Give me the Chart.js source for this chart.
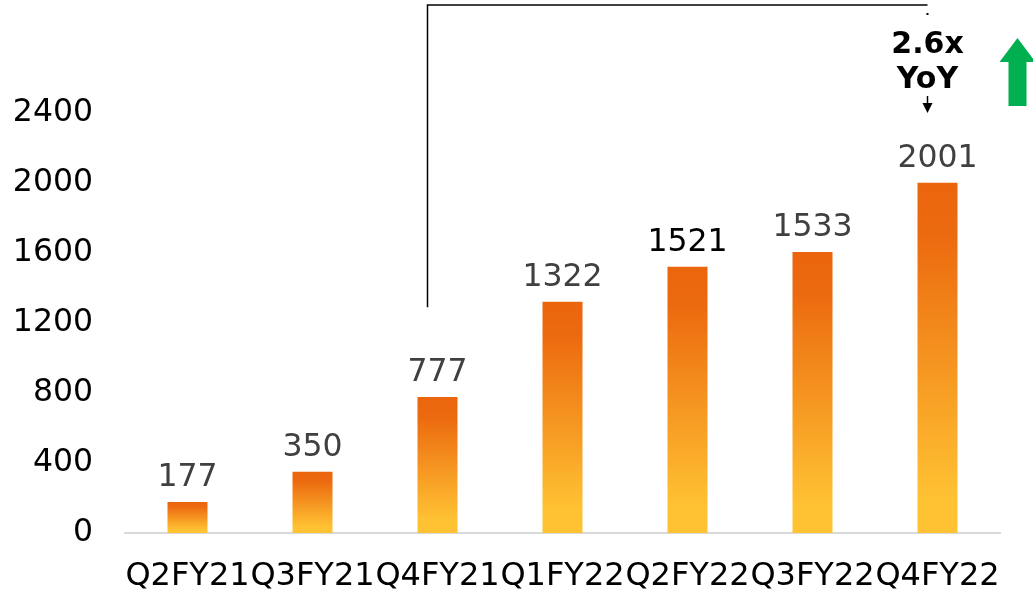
<!DOCTYPE html>
<html>
<head>
<meta charset="utf-8">
<script src="https://cdn.jsdelivr.net/npm/chart.js@4.4.0/dist/chart.umd.min.js"></script>
<style>
  html, body { margin: 0; padding: 0; background: #ffffff; }
  #wrap { width: 1033px; height: 598px; position: relative; }
</style>
</head>
<body>
<div id="wrap"><canvas id="c" width="1033" height="598"></canvas></div>
<script>
// ---- data ----
const categories = ['Q2FY21', 'Q3FY21', 'Q4FY21', 'Q1FY22', 'Q2FY22', 'Q3FY22', 'Q4FY22'];
const barValues = [177, 350, 777, 1322, 1521, 1606, 2001];      // bar heights as drawn
const barLabels = ['177', '350', '777', '1322', '1521', '1533', '2001']; // printed labels
const yTicks = [0, 400, 800, 1200, 1600, 2000, 2400];
const growthText = ['2.6x', 'YoY'];

// ---- styles ----
const labelColors = ['#404040', '#404040', '#404040', '#404040', '#000000', '#404040', '#404040'];
const FONT = "'DejaVu Sans', Verdana, sans-serif";

function barGradient(ctx) {
  const chart = ctx.chart;
  const ca = chart.chartArea;
  if (!ca || ctx.type !== 'data') return '#F08A1E';
  const y = chart.scales.y;
  const top = y.getPixelForValue(ctx.raw);
  const bottom = y.getPixelForValue(0);
  const g = chart.ctx.createLinearGradient(0, top, 0, bottom);
  g.addColorStop(0, '#EB650C');
  g.addColorStop(0.15, '#EC6A0F');
  g.addColorStop(0.9, '#FFC233');
  g.addColorStop(1, '#FFC233');
  return g;
}

const decorPlugin = {
  id: 'decor',
  afterDatasetsDraw(chart) {
    const ctx = chart.ctx;
    const meta = chart.getDatasetMeta(0);
    // value labels
    ctx.save();
    ctx.font = '31.5px ' + FONT;
    ctx.textAlign = 'center';
    ctx.textBaseline = 'alphabetic';
    meta.data.forEach((bar, i) => {
      ctx.fillStyle = labelColors[i];
      ctx.fillText(barLabels[i], bar.x, bar.y - 16);
    });
    ctx.restore();

    // bracket
    const xs = chart.scales.x, ys = chart.scales.y;
    const x0 = xs.getPixelForValue(2) - 10;
    const x1 = xs.getPixelForValue(6) - 10;
    const yTop = chart.chartArea.top - 3;
    const yBot = ys.getPixelForValue(1290);
    ctx.save();
    ctx.strokeStyle = '#000000';
    ctx.lineWidth = 1.5;
    ctx.beginPath();
    ctx.moveTo(x0, yBot);
    ctx.lineTo(x0, yTop);
    ctx.lineTo(x1, yTop);
    ctx.stroke();
    // tiny dot
    ctx.fillStyle = '#000';
    ctx.fillRect(x1 - 1, yTop + 8, 2, 2);

    // growth text
    const tx = x1;
    ctx.font = 'bold 30px ' + FONT;
    ctx.textAlign = 'center';
    ctx.textBaseline = 'alphabetic';
    ctx.fillText(growthText[0], tx, yTop + 48);
    ctx.fillText(growthText[1], tx, yTop + 83);
    // small arrow down
    ctx.lineWidth = 1.5;
    ctx.beginPath();
    ctx.moveTo(tx, yTop + 91);
    ctx.lineTo(tx, yTop + 100);
    ctx.stroke();
    ctx.beginPath();
    ctx.moveTo(tx - 5, yTop + 98);
    ctx.lineTo(tx + 5, yTop + 98);
    ctx.lineTo(tx, yTop + 108);
    ctx.closePath();
    ctx.fill();

    // green arrow
    const gx = x1 + 90;
    ctx.fillStyle = '#00B050';
    ctx.beginPath();
    ctx.moveTo(gx, yTop + 33);
    ctx.lineTo(gx + 18, yTop + 57);
    ctx.lineTo(gx + 9, yTop + 57);
    ctx.lineTo(gx + 9, yTop + 101);
    ctx.lineTo(gx - 9, yTop + 101);
    ctx.lineTo(gx - 9, yTop + 57);
    ctx.lineTo(gx - 18, yTop + 57);
    ctx.closePath();
    ctx.fill();
    ctx.restore();
  }
};

new Chart(document.getElementById('c'), {
  type: 'bar',
  data: {
    labels: categories,
    datasets: [{
      data: barValues,
      backgroundColor: barGradient,
      borderWidth: 0,
      barPercentage: 0.64,
      categoryPercentage: 0.5
    }]
  },
  options: {
    responsive: false,
    animation: false,
    devicePixelRatio: 1,
    layout: { padding: { top: 8, right: 33, left: 0, bottom: 0 } },
    plugins: { legend: { display: false }, tooltip: { enabled: false } },
    scales: {
      x: {
        grid: { display: false, drawTicks: false, tickLength: 0 },
        border: { display: true, color: '#D9D9D9', width: 2 },
        ticks: {
          color: '#000000',
          font: { family: FONT, size: 32 },
          maxRotation: 0, minRotation: 0, autoSkip: false,
          padding: 24
        },
        afterFit(scale) { scale.paddingLeft = 0; scale.paddingRight = 0; scale.height = 65; }
      },
      y: {
        min: 0,
        max: 3000,
        afterBuildTicks(scale) { scale.ticks = yTicks.map(v => ({ value: v })); },
        grid: { display: false, drawTicks: false, tickLength: 0 },
        border: { display: false },
        ticks: {
          color: '#000000',
          font: { family: FONT, size: 31.5 },
          padding: 32,
          callback: (v) => String(v)
        },
        afterFit(scale) { scale.width = 125; scale.paddingTop = 0; scale.paddingBottom = 0; }
      }
    }
  },
  plugins: [decorPlugin]
});
</script>
</body>
</html>
